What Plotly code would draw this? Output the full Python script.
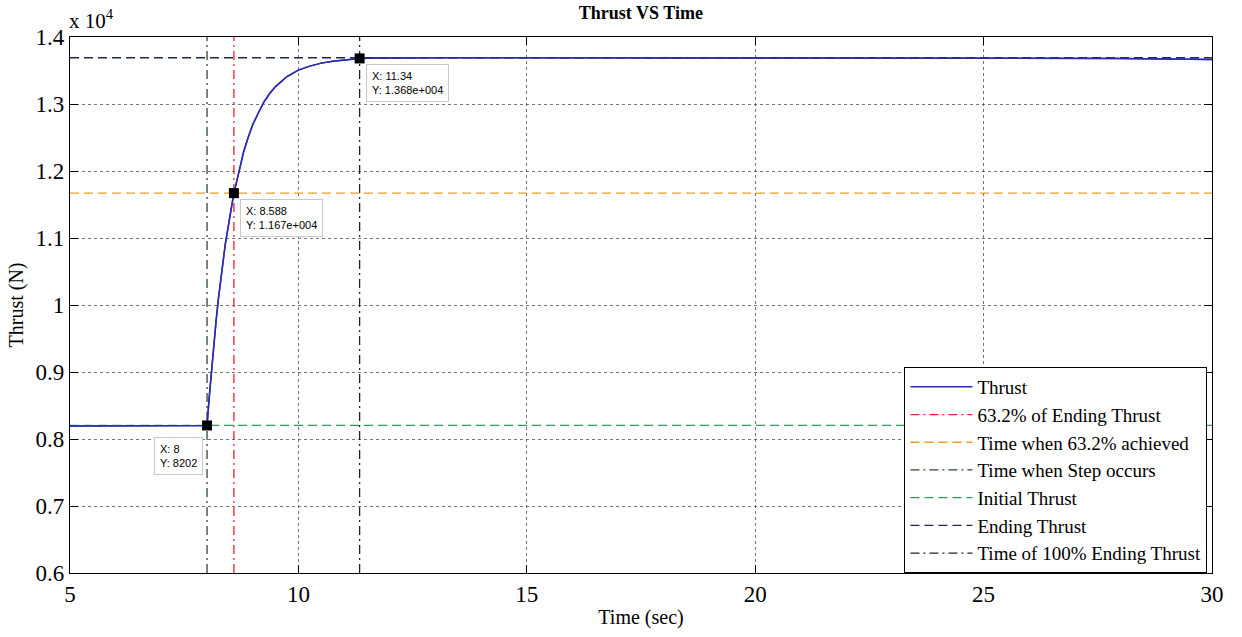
import plotly.graph_objects as go

# ---- data ----
time_s = [5, 6, 7, 7.9, 8, 8.05, 8.1, 8.15, 8.2, 8.25, 8.3, 8.35, 8.4, 8.5, 8.588, 8.7,
          8.8, 8.9, 9.0, 9.125, 9.25, 9.375, 9.5, 9.75, 10.0, 10.25, 10.5, 10.75, 11.0,
          11.34, 11.7, 12, 13, 15, 20, 25, 28, 30]
thrust_n = [8195, 8198, 8200, 8202, 8202, 8640, 9060, 9430, 9780, 10100, 10400, 10660,
            10910, 11320, 11670, 11990, 12285, 12500, 12690, 12870, 13035, 13160, 13260,
            13410, 13505, 13565, 13610, 13637, 13655, 13680, 13685, 13688, 13690, 13690,
            13688, 13686, 13680, 13665]

t_step = 8.0
t_632 = 8.588
t_100 = 11.34
f_init = 8202
f_632 = 11670
f_end = 13690

x_range = [5, 30]
y_range = [6000, 14000]
x_ticks = [5, 10, 15, 20, 25, 30]
y_ticks = [6000, 7000, 8000, 9000, 10000, 11000, 12000, 13000, 14000]
y_tick_text = ["0.6", "0.7", "0.8", "0.9", "1", "1.1", "1.2", "1.3", "1.4"]

tip_x = [8, 8.588, 11.34]
tip_y = [8202, 11670, 13680]
tip_text = ["X: 8<br>Y: 8202", "X: 8.588<br>Y: 1.167e+004", "X: 11.34<br>Y: 1.368e+004"]

SERIF = "'Liberation Serif', 'Times New Roman', serif"
DASH = "9px,5px"
DASHDOT = "9px,4px,2px,4px"

fig = go.Figure()
fig.add_trace(go.Scatter(x=time_s, y=thrust_n, mode="lines", name="Thrust",
                         line=dict(color="#2b2bb0", width=1.5)))
fig.add_trace(go.Scatter(x=[t_632, t_632], y=y_range, mode="lines", name="63.2% of Ending Thrust",
                         line=dict(color="#e8202a", width=1.3, dash=DASHDOT)))
fig.add_trace(go.Scatter(x=x_range, y=[f_632, f_632], mode="lines", name="Time when 63.2% achieved",
                         line=dict(color="#f39a2a", width=1.3, dash=DASH)))
fig.add_trace(go.Scatter(x=[t_step, t_step], y=y_range, mode="lines", name="Time when Step occurs",
                         line=dict(color="#2f4a2f", width=1.3, dash=DASHDOT)))
fig.add_trace(go.Scatter(x=x_range, y=[f_init, f_init], mode="lines", name="Initial Thrust",
                         line=dict(color="#2f9a5a", width=1.3, dash=DASH)))
fig.add_trace(go.Scatter(x=x_range, y=[f_end, f_end], mode="lines", name="Ending Thrust",
                         line=dict(color="#1f2a4a", width=1.3, dash=DASH)))
fig.add_trace(go.Scatter(x=[t_100, t_100], y=y_range, mode="lines", name="Time of 100% Ending Thrust",
                         line=dict(color="#222222", width=1.3, dash=DASHDOT)))
# redraw thrust curve on top so it sits above the reference lines
fig.add_trace(go.Scatter(x=time_s, y=thrust_n, mode="lines", showlegend=False, hoverinfo="skip",
                         line=dict(color="#2b2bb0", width=1.5)))
fig.add_trace(go.Scatter(x=tip_x, y=tip_y, mode="markers", showlegend=False,
                         marker=dict(symbol="square", size=10, color="black")))

# data tips
anchors = [("right", "top", -4, -12), ("left", "top", 6, -6), ("left", "top", 6, -6)]
for (xa, ya, dx, dy), x, y, txt in zip(anchors, tip_x, tip_y, tip_text):
    fig.add_annotation(x=x, y=y, text=txt, showarrow=False, xanchor=xa, yanchor=ya,
                       xshift=dx, yshift=dy, align="left",
                       font=dict(family="Liberation Sans, Arial, sans-serif", size=11, color="black"),
                       bgcolor="rgba(255,255,255,0.95)", bordercolor="#c8c8c8", borderwidth=1, borderpad=5)

fig.add_annotation(xref="paper", yref="paper", x=-0.003, y=1.0, yshift=2, xanchor="left", yanchor="bottom",
                   text="x 10<sup>4</sup>", showarrow=False,
                   font=dict(family=SERIF, size=21, color="black"))

axis_common = dict(showline=True, linecolor="black", linewidth=1.2, mirror="ticks",
                   ticks="inside", ticklen=8, tickcolor="black", showgrid=True,
                   gridcolor="rgba(60,60,60,0.7)", griddash="dot", gridwidth=1, zeroline=False,
                   tickfont=dict(family=SERIF, size=23, color="black"))

fig.update_xaxes(range=x_range, tickvals=x_ticks, title=dict(text="Time (sec)", standoff=4,
                 font=dict(family=SERIF, size=20, color="black")), **axis_common)
fig.update_yaxes(range=y_range, tickvals=y_ticks, ticktext=y_tick_text,
                 title=dict(text="Thrust (N)", standoff=6, font=dict(family=SERIF, size=20, color="black")),
                 **axis_common)

fig.update_layout(
    width=1242, height=637,
    margin=dict(l=70, r=30, t=37, b=52),
    paper_bgcolor="white", plot_bgcolor="white",
    title=dict(text="<b>Thrust VS Time</b>", x=0.516, xanchor="center", y=0.99, yanchor="top",
               font=dict(family=SERIF, size=18, color="black")),
    legend=dict(x=0.996, y=0.0, xanchor="right", yanchor="bottom",
                bgcolor="white", bordercolor="black", borderwidth=1,
                font=dict(family=SERIF, size=19, color="black"), tracegroupgap=0,
                itemwidth=62),
    showlegend=True,
)

fig.write_html("out.html")
